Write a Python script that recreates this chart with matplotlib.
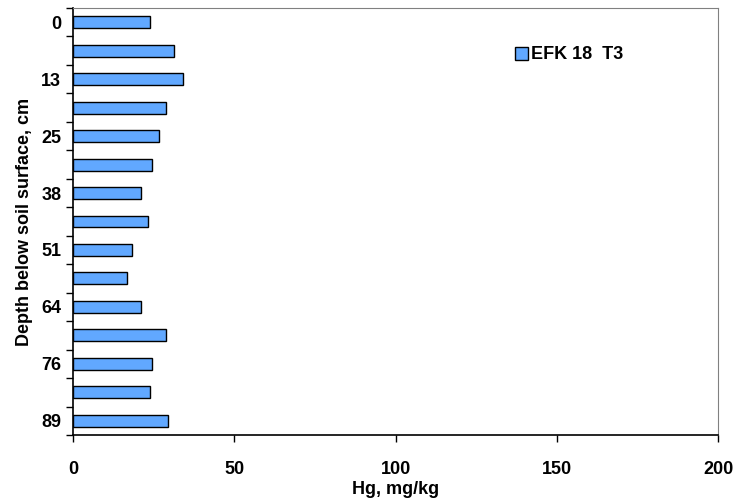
import numpy as np
import matplotlib
matplotlib.use('Agg')
import matplotlib.pyplot as plt

plt.rcParams['font.family'] = ['Liberation Sans', 'DejaVu Sans']
plt.rcParams['font.weight'] = 'bold'

# depth labels (every other bar labelled), top to bottom
depth_labels = ['0', '', '13', '', '25', '', '38', '', '51', '', '64', '', '76', '', '89']
hg = [24.0, 31.4, 34.2, 28.7, 26.8, 24.6, 21.2, 23.2, 18.4, 16.8, 21.2, 28.7, 24.6, 24.0, 29.6]
series_name = 'EFK 18  T3'

fig = plt.figure(figsize=(7.35, 5.01), dpi=100)
ax = fig.add_axes([73/735, 1 - 435/501, 645/735, 427/501])

pos = np.arange(len(hg))
ax.barh(pos, hg, height=0.42, color='#61a8ff', edgecolor='black', linewidth=1.0, label=series_name)

ax.set_ylim(len(hg) - 0.5, -0.5)
ax.set_xlim(0, 200)
ax.set_xticks([0, 50, 100, 150, 200])
ax.set_yticks(pos)
ax.set_yticklabels(depth_labels)
ax.set_yticks(np.arange(-0.5, len(hg), 1), minor=True)
ax.tick_params(axis='y', which='major', length=0, pad=8.5, labelsize=13)
ax.tick_params(axis='y', which='minor', length=5, width=1)
ax.tick_params(axis='x', length=5, width=1, pad=14, labelsize=13)

for s in ['left', 'bottom']:
    ax.spines[s].set_color('black')
    ax.spines[s].set_linewidth(1.2)
for s in ['top', 'right']:
    ax.spines[s].set_color('#808080')
    ax.spines[s].set_linewidth(0.8)

ax.set_xlabel('Hg, mg/kg', fontsize=13, fontweight='bold', labelpad=2)
ax.set_ylabel('Depth below soil surface, cm', fontsize=13, fontweight='bold', labelpad=6)

leg = ax.legend(loc='center left', bbox_to_anchor=(0.66, 0.89), frameon=False,
                fontsize=13, handlelength=0.75, handleheight=0.75, handletextpad=0.15)

fig.savefig('out.png', dpi=100)
